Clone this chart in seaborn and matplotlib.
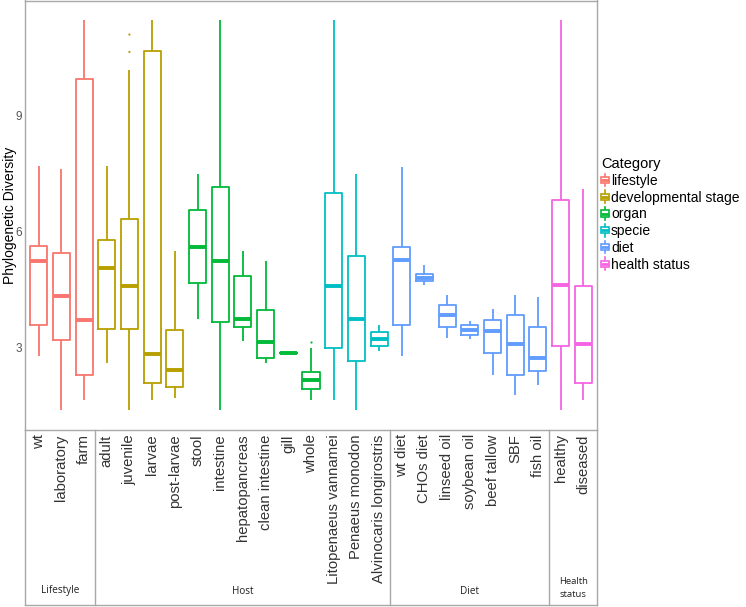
import matplotlib
matplotlib.use("Agg")
import matplotlib.pyplot as plt
import seaborn as sns
import pandas as pd
from matplotlib.legend_handler import HandlerBase
from matplotlib.patches import Rectangle, Patch
from matplotlib.lines import Line2D

plt.rcParams['font.family'] = ['Liberation Sans', 'DejaVu Sans']

# ---------------- data ----------------
labels = ["wt", "laboratory", "farm",
          "adult", "juvenile", "larvae", "post-larvae",
          "stool", "intestine", "hepatopancreas", "clean intestine", "gill", "whole",
          "Litopenaeus vannamei", "Penaeus monodon", "Alvinocaris longirostris",
          "wt diet", "CHOs diet", "linseed oil", "soybean oil", "beef tallow", "SBF", "fish oil",
          "healthy", "diseased"]
label_category = ["lifestyle", "lifestyle", "lifestyle",
                  "developmental stage", "developmental stage", "developmental stage", "developmental stage",
                  "organ", "organ", "organ", "organ", "organ", "organ",
                  "specie", "specie", "specie",
                  "diet", "diet", "diet", "diet", "diet", "diet", "diet",
                  "health status", "health status"]
categories = ["lifestyle", "developmental stage", "organ", "specie", "diet", "health status"]
cat_colors = ["#F8766D", "#B79F00", "#00BA38", "#00BFC4", "#619CFF", "#F564E3"]

whisker_low = [2.76, 1.36, 1.62, 2.59, 1.36, 1.62, 1.69, 3.73, 1.36, 3.17, 2.59, 2.85, 1.62,
               1.62, 1.36, 2.89, 2.76, 4.60, 3.23, 3.21, 2.27, 1.77, 2.02, 1.36, 1.62]
q1 = [3.58, 3.19, 2.27, 3.46, 3.46, 2.08, 1.96, 4.66, 3.66, 3.52, 2.73, 2.85, 1.92,
      2.97, 2.65, 3.04, 3.58, 4.70, 3.52, 3.32, 2.84, 2.29, 2.37, 3.02, 2.08]
median = [5.24, 4.33, 3.71, 5.05, 4.57, 2.81, 2.42, 5.60, 5.24, 3.72, 3.14, 2.85, 2.16,
          4.57, 3.72, 3.22, 5.25, 4.80, 3.84, 3.45, 3.41, 3.09, 2.72, 4.60, 3.09]
q3 = [5.61, 5.44, 9.94, 5.78, 6.31, 10.66, 3.45, 6.54, 7.15, 4.85, 3.95, 2.85, 2.36,
      6.98, 5.37, 3.40, 5.59, 4.88, 4.10, 3.57, 3.71, 3.84, 3.51, 6.80, 4.57]
whisker_high = [7.68, 7.62, 11.46, 7.68, 10.18, 11.46, 5.50, 7.47, 11.46, 5.49, 5.22, 2.85, 2.97,
                11.46, 7.47, 3.56, 7.66, 5.12, 4.34, 3.67, 3.99, 4.36, 4.30, 11.46, 7.08]

outlier_labels = ["juvenile", "juvenile", "whole"]
outlier_category = ["developmental stage", "developmental stage", "organ"]
outlier_values = [11.09, 10.64, 3.13]

group_names = ["Lifestyle", "Host", "Diet", "Health\nstatus"]
group_bounds = [(-0.6, 2.5), (2.5, 15.5), (15.5, 22.5), (22.5, 24.6)]

# long table: five-number summary per label
rows = []
for i, lab in enumerate(labels):
    for v in (whisker_low[i], q1[i], median[i], q3[i], whisker_high[i]):
        rows.append({"label": lab, "Category": label_category[i], "value": v})
df = pd.DataFrame(rows)
out_df = pd.DataFrame({"label": outlier_labels, "Category": outlier_category, "value": outlier_values})

# ---------------- figure ----------------
W, H = 746, 607
fig = plt.figure(figsize=(W / 100, H / 100), dpi=100)
ax_left, ax_right, ax_top, ax_bottom = 25, 597, 0.5, 430
ax = fig.add_axes([ax_left / W, 1 - ax_bottom / H, (ax_right - ax_left) / W, (ax_bottom - ax_top) / H])

palette = dict(zip(categories, cat_colors))
sns.boxplot(data=df, x="label", y="value", hue="Category", order=labels, hue_order=categories,
            palette=palette, whis=(0, 100), fill=False, dodge=False, width=0.75,
            linewidth=1.3, showcaps=False, legend=False, ax=ax,
            medianprops={"linewidth": 2.8, "solid_capstyle": "butt"})
sns.stripplot(data=out_df, x="label", y="value", hue="Category", order=labels, hue_order=categories,
              palette=palette, jitter=False, size=1.6, legend=False, ax=ax)

ax.set_xlim(-0.6, 24.6)
ax.set_ylim(0.855, 11.97)
ax.set_yticks([3, 6, 9])
ax.set_yticklabels(["3", "6", "9"], fontsize=8.5, color="#555555")
ax.tick_params(axis="y", length=0, pad=2)
ax.set_xticks(range(len(labels)))
ax.set_xticklabels(labels, rotation=90, fontsize=10.7, color="#333333", va="top", ha="center")
ax.tick_params(axis="x", length=0, pad=3)
ax.set_xlabel("")
ax.set_ylabel("Phylogenetic Diversity", fontsize=10, color="black", labelpad=-1)
for s in ax.spines.values():
    s.set_color("#A8A8A8")
    s.set_linewidth(1.0)

# ---------------- bottom table ----------------
def fx(px):
    return px / W

def fy(py):
    return 1 - py / H

tab_top, tab_bottom = 430, 605
unit = (ax_right - ax_left) / 25.2
def xpix(idx):
    return ax_left + (idx + 0.6) * unit

line_kw = dict(color="#A8A8A8", linewidth=1.0, transform=fig.transFigure)
fig.add_artist(Line2D([fx(ax_left), fx(ax_left)], [fy(tab_top), fy(tab_bottom)], **line_kw))
fig.add_artist(Line2D([fx(ax_right), fx(ax_right)], [fy(tab_top), fy(tab_bottom)], **line_kw))
fig.add_artist(Line2D([fx(ax_left), fx(ax_right)], [fy(tab_bottom), fy(tab_bottom)], **line_kw))
for (a, b) in group_bounds[:-1]:
    xs = xpix(b)
    fig.add_artist(Line2D([fx(xs), fx(xs)], [fy(tab_top), fy(tab_bottom)], **line_kw))
for name, (a, b) in zip(group_names, group_bounds):
    xc = (xpix(a) + xpix(b)) / 2
    if "\n" in name:
        fig.text(fx(xc), fy(588), name, ha="center", va="center", fontsize=6.8,
                 family=["Open Sans", "DejaVu Sans"], color="#222222", linespacing=1.45)
    else:
        fig.text(fx(xc), fy(591), name, ha="center", va="center", fontsize=7.2,
                 family=["Open Sans", "DejaVu Sans"], color="#222222")

# ---------------- legend ----------------
class BoxKeyHandler(HandlerBase):
    def create_artists(self, legend, orig_handle, xdescent, ydescent, width, height, fontsize, trans):
        c = orig_handle.get_edgecolor()
        x0, y0 = -xdescent, -ydescent
        cx = x0 + width / 2
        wl = Line2D([cx, cx], [y0 - 0.1 * height, y0 + 1.1 * height], color=c, lw=1.2, transform=trans)
        rect = Rectangle((x0, y0 + 0.2 * height), width, 0.6 * height, facecolor="white",
                         edgecolor=c, lw=1.2, transform=trans)
        med = Line2D([x0, x0 + width], [y0 + 0.5 * height] * 2, color=c, lw=2.0, transform=trans,
                     solid_capstyle="butt")
        return [wl, rect, med]

handles = [Patch(facecolor="white", edgecolor=c, label=n) for n, c in zip(categories, cat_colors)]
leg = fig.legend(handles=handles, labels=categories, title="Category",
                 loc="upper left", bbox_to_anchor=(fx(601), fy(157)), frameon=False,
                 fontsize=10, title_fontsize=10.5, handlelength=0.6, handleheight=0.8,
                 handletextpad=0.12, labelspacing=0.2, borderpad=0, borderaxespad=0,
                 alignment="left", handler_map={Patch: BoxKeyHandler()})

fig.savefig("out.png", dpi=100, facecolor="white")
